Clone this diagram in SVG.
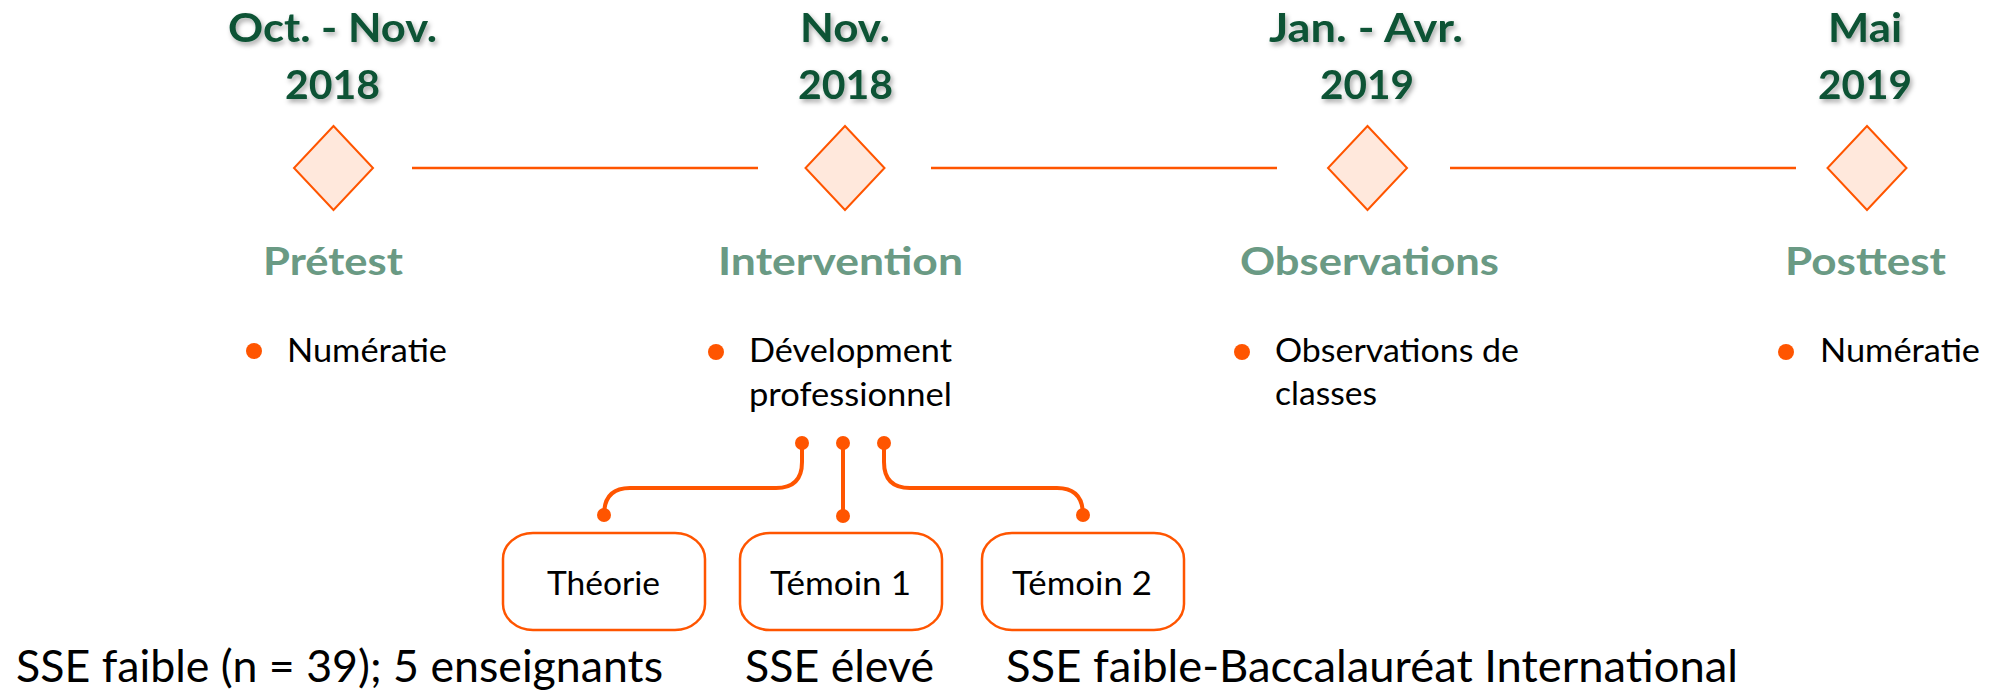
<svg xmlns="http://www.w3.org/2000/svg" width="1991" height="691" viewBox="0 0 1991 691">
<defs>
<filter id="sh" x="-10%" y="-30%" width="130%" height="170%">
<feDropShadow dx="2" dy="3" stdDeviation="2.5" flood-color="#000" flood-opacity="0.35"/>
</filter>
<style>
.date{font-family:Lato,"Liberation Sans",sans-serif;font-weight:bold;font-size:41px;fill:#0B5334;filter:url(#sh)}
.title{font-family:Lato,"Liberation Sans",sans-serif;font-weight:bold;font-size:39px;fill:#6A9A84}
.item{font-family:Lato,"Liberation Sans",sans-serif;font-size:33px;fill:#000}
.box{font-family:Lato,"Liberation Sans",sans-serif;font-size:32px;fill:#000}
.bottom{font-family:Lato,"Liberation Sans",sans-serif;font-size:44px;fill:#000}
.dia{fill:#FFE8DC;stroke:#FF5500;stroke-width:2}
.tl{stroke:#FF5500;stroke-width:2.5;fill:none}
.bul{fill:#FF5500}
.conn{stroke:#FF5500;stroke-width:4;fill:none}
.dot{fill:#FF5500}
.rb{fill:#fff;stroke:#FF5500;stroke-width:2.5}
</style>
</defs>
<rect width="1991" height="691" fill="#fff"/>

<g id="connectors">
<line class="tl" x1="412" y1="168" x2="758" y2="168"/>
<line class="tl" x1="931" y1="168" x2="1277" y2="168"/>
<line class="tl" x1="1450" y1="168" x2="1796" y2="168"/>
<path class="conn" d="M802,443 V462 Q802,488 776,488 H630 Q604,488 604,515"/>
<path class="conn" d="M843,443 V516"/>
<path class="conn" d="M884,443 V462 Q884,488 910,488 H1057 Q1083,488 1083,515"/>
<circle class="dot" cx="802" cy="443" r="7"/>
<circle class="dot" cx="843" cy="443" r="7"/>
<circle class="dot" cx="884" cy="443" r="7"/>
<circle class="dot" cx="604" cy="515" r="7"/>
<circle class="dot" cx="843" cy="516" r="7"/>
<circle class="dot" cx="1083" cy="515" r="7"/>
</g>

<g id="pretest">
<text class="date" x="228" y="42" textLength="209" lengthAdjust="spacingAndGlyphs">Oct. - Nov.</text>
<text class="date" x="285" y="99" textLength="95" lengthAdjust="spacingAndGlyphs">2018</text>
<polygon class="dia" points="333.5,126 373,168 333.5,210 294,168"/>
<text class="title" x="263" y="275" textLength="140" lengthAdjust="spacingAndGlyphs">Prétest</text>
<circle class="bul" cx="254" cy="351" r="8"/>
<text class="item" x="287" y="362" textLength="160" lengthAdjust="spacingAndGlyphs">Numératie</text>
</g>

<g id="intervention">
<text class="date" x="800" y="42" textLength="90" lengthAdjust="spacingAndGlyphs">Nov.</text>
<text class="date" x="798" y="99" textLength="95" lengthAdjust="spacingAndGlyphs">2018</text>
<polygon class="dia" points="845,126 884.5,168 845,210 805.5,168"/>
<text class="title" x="718" y="275" textLength="245" lengthAdjust="spacingAndGlyphs">Intervention</text>
<circle class="bul" cx="716" cy="352" r="8"/>
<text class="item" x="749" y="362" textLength="203" lengthAdjust="spacingAndGlyphs">Dévelopment</text>
<text class="item" x="749" y="406" textLength="203" lengthAdjust="spacingAndGlyphs">professionnel</text>
</g>

<g id="observations">
<text class="date" x="1269" y="42" textLength="194" lengthAdjust="spacingAndGlyphs">Jan. - Avr.</text>
<text class="date" x="1320" y="99" textLength="94" lengthAdjust="spacingAndGlyphs">2019</text>
<polygon class="dia" points="1367.5,126 1407,168 1367.5,210 1328,168"/>
<text class="title" x="1240" y="275" textLength="259" lengthAdjust="spacingAndGlyphs">Observations</text>
<circle class="bul" cx="1242" cy="352" r="8"/>
<text class="item" x="1275" y="362" textLength="244" lengthAdjust="spacingAndGlyphs">Observations de</text>
<text class="item" x="1275" y="405" textLength="102" lengthAdjust="spacingAndGlyphs">classes</text>
</g>

<g id="posttest">
<text class="date" x="1828" y="42" textLength="74" lengthAdjust="spacingAndGlyphs">Mai</text>
<text class="date" x="1818" y="99" textLength="94" lengthAdjust="spacingAndGlyphs">2019</text>
<polygon class="dia" points="1867,126 1906.5,168 1867,210 1827.5,168"/>
<text class="title" x="1785" y="275" textLength="161" lengthAdjust="spacingAndGlyphs">Posttest</text>
<circle class="bul" cx="1786" cy="352" r="8"/>
<text class="item" x="1820" y="362" textLength="160" lengthAdjust="spacingAndGlyphs">Numératie</text>
</g>

<g id="theorie">
<rect class="rb" x="503" y="533" width="202" height="97" rx="30" ry="26"/>
<text class="box" x="547" y="595" textLength="113" lengthAdjust="spacingAndGlyphs">Théorie</text>
<text class="bottom" x="16" y="682" textLength="647" lengthAdjust="spacingAndGlyphs">SSE faible (n = 39); 5 enseignants</text>
</g>

<g id="temoin1">
<rect class="rb" x="740" y="533" width="202" height="97" rx="30" ry="26"/>
<text class="box" x="770" y="595" textLength="141" lengthAdjust="spacingAndGlyphs">Témoin 1</text>
<text class="bottom" x="745" y="682" textLength="189" lengthAdjust="spacingAndGlyphs">SSE élevé</text>
</g>

<g id="temoin2">
<rect class="rb" x="982" y="533" width="202" height="97" rx="30" ry="26"/>
<text class="box" x="1012" y="595" textLength="140" lengthAdjust="spacingAndGlyphs">Témoin 2</text>
<text class="bottom" x="1006" y="682" textLength="732" lengthAdjust="spacingAndGlyphs">SSE faible-Baccalauréat International</text>
</g>
</svg>
